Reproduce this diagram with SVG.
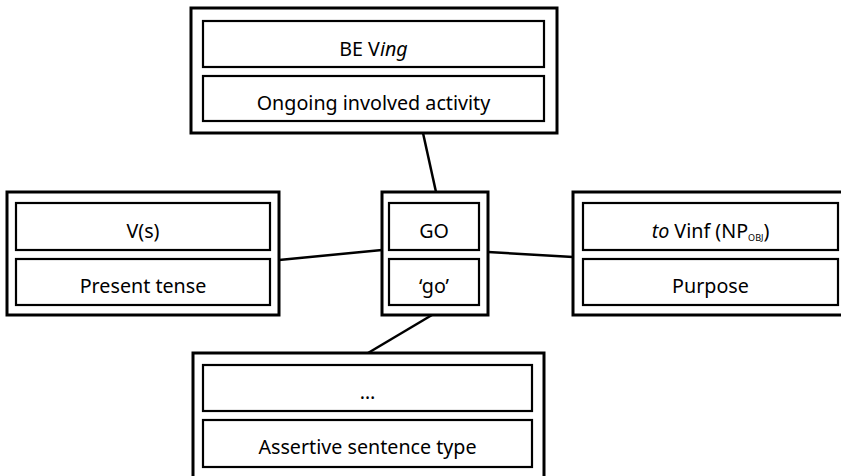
<svg xmlns="http://www.w3.org/2000/svg" width="841" height="476" viewBox="0 0 841 476">
  <style>
    .outer { fill: #ffffff; stroke: #000000; stroke-width: 3; }
    .inner { fill: #ffffff; stroke: #000000; stroke-width: 2.2; }
    .label { font-family: "Noto Sans", "Open Sans", sans-serif; font-size: 19.7px; fill: #000000; text-anchor: middle; }
    .link { stroke: #000000; stroke-width: 2.5; fill: none; }
  </style>
  <rect width="841" height="476" fill="#ffffff"/>

  <!-- connectors between the central GO node and its neighbours -->
  <g id="connectors">
    <line class="link" x1="423" y1="133" x2="436" y2="192"/>
    <line class="link" x1="279" y1="260" x2="382" y2="250"/>
    <line class="link" x1="488" y1="252" x2="573" y2="257"/>
    <line class="link" x1="432" y1="315" x2="368" y2="353"/>
  </g>

  <!-- top: progressive construction -->
  <g id="node-be-ving">
    <rect class="outer" x="191" y="8" width="366" height="125"/>
    <rect class="inner" x="203" y="21" width="341" height="46"/>
    <rect class="inner" x="203" y="76" width="341" height="45"/>
    <text class="label" x="373.5" y="56">BE V<tspan font-style="italic">ing</tspan></text>
    <text class="label" x="373.5" y="110">Ongoing involved activity</text>
  </g>

  <!-- left: present tense -->
  <g id="node-present">
    <rect class="outer" x="7" y="192" width="272" height="123"/>
    <rect class="inner" x="16" y="203" width="254" height="47"/>
    <rect class="inner" x="16" y="259" width="254" height="46"/>
    <text class="label" x="143" y="237.5">V(s)</text>
    <text class="label" x="143" y="293">Present tense</text>
  </g>

  <!-- centre: GO -->
  <g id="node-go">
    <rect class="outer" x="382" y="192" width="106" height="123"/>
    <rect class="inner" x="389" y="203" width="90" height="47"/>
    <rect class="inner" x="389" y="259" width="90" height="46"/>
    <text class="label" x="434" y="237.5">GO</text>
    <text class="label" x="434" y="293">‘go’</text>
  </g>

  <!-- right: purpose infinitive -->
  <g id="node-purpose">
    <rect class="outer" x="573" y="192" width="280" height="123"/>
    <rect class="inner" x="583" y="203" width="255" height="47"/>
    <rect class="inner" x="583" y="259" width="255" height="46"/>
    <text class="label" x="710.5" y="237.5"><tspan font-style="italic">to</tspan> Vinf (NP<tspan font-size="9" dy="3">OBJ</tspan><tspan dy="-3">)</tspan></text>
    <text class="label" x="710.5" y="293">Purpose</text>
  </g>

  <!-- bottom: sentence type -->
  <g id="node-assertive">
    <rect class="outer" x="193" y="353" width="351" height="130"/>
    <rect class="inner" x="203" y="365" width="329" height="46"/>
    <rect class="inner" x="203" y="420" width="329" height="47"/>
    <text class="label" x="367.5" y="399">…</text>
    <text class="label" x="367.5" y="454">Assertive sentence type</text>
  </g>
</svg>
